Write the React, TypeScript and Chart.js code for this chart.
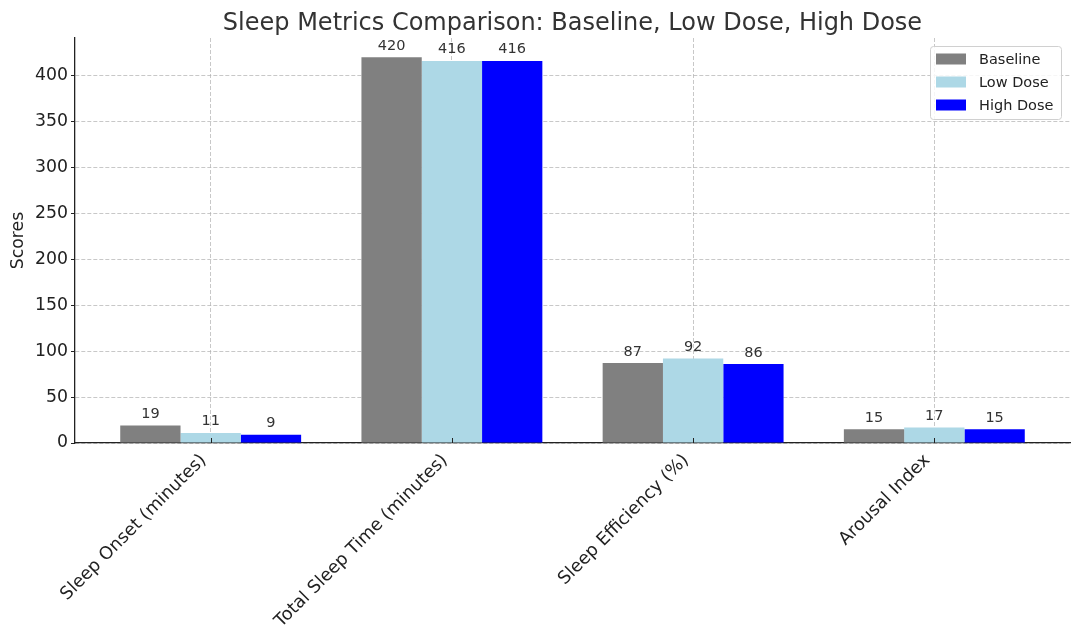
import { useEffect, useRef } from 'react';
import { Chart, registerables } from 'chart.js';

Chart.register(...registerables);

// data
const categories = ['Sleep Onset (minutes)', 'Total Sleep Time (minutes)', 'Sleep Efficiency (%)', 'Arousal Index'];
const seriesNames = ['Baseline', 'Low Dose', 'High Dose'];
const baseline = [19, 420, 87, 15];
const lowDose = [11, 416, 92, 17];
const highDose = [9, 416, 86, 15];
const yTicks = [0, 50, 100, 150, 200, 250, 300, 350, 400];

const seriesColors = ['#808080', '#add8e6', '#0000ff'];
const FONT = '"DejaVu Sans", Verdana, sans-serif';
const TITLE = 'Sleep Metrics Comparison: Baseline, Low Dose, High Dose';

Chart.defaults.font.family = FONT;
Chart.defaults.font.size = 17;
Chart.defaults.color = '#222';

const extras = {
  id: 'extras',
  afterDatasetsDraw(chart: any) {
    const { ctx, chartArea } = chart;
    ctx.save();

    // value labels above bars
    ctx.font = `14.5px ${FONT}`;
    ctx.fillStyle = '#333';
    ctx.textAlign = 'center';
    ctx.textBaseline = 'alphabetic';
    chart.data.datasets.forEach((ds: any, di: number) => {
      chart.getDatasetMeta(di).data.forEach((bar: any, i: number) => {
        ctx.fillText(String(ds.data[i].y), bar.x, bar.y - 7.5);
      });
    });

    // small inward tick marks on the x axis
    const xs = chart.scales.x;
    ctx.strokeStyle = '#222';
    ctx.lineWidth = 1;
    ctx.beginPath();
    xs.ticks.forEach((t: any) => {
      const px = Math.round(xs.getPixelForValue(t.value)) + 0.5;
      ctx.moveTo(px, chartArea.bottom);
      ctx.lineTo(px, chartArea.bottom - 5);
    });
    ctx.stroke();
    ctx.restore();
  },
  afterDraw(chart: any) {
    const { ctx, chartArea } = chart;
    ctx.save();

    // title, centred over the plot area
    ctx.font = `24px ${FONT}`;
    ctx.fillStyle = '#333';
    ctx.textAlign = 'center';
    ctx.textBaseline = 'alphabetic';
    ctx.fillText(TITLE, (chartArea.left + chartArea.right) / 2, 30);

    // legend box in the upper right corner
    const bx = 930.5, by = 46.5, bw = 131, bh = 73;
    ctx.fillStyle = 'rgba(255,255,255,0.85)';
    ctx.strokeStyle = '#d0d0d0';
    ctx.lineWidth = 1;
    ctx.beginPath();
    ctx.roundRect(bx, by, bw, bh, 3);
    ctx.fill();
    ctx.stroke();

    ctx.font = `14.5px ${FONT}`;
    ctx.textAlign = 'left';
    ctx.textBaseline = 'middle';
    chart.data.datasets.forEach((ds: any, i: number) => {
      const cy = 59 + i * 23;
      ctx.fillStyle = ds.backgroundColor;
      ctx.fillRect(936, cy - 5.5, 30, 11);
      ctx.fillStyle = '#222';
      ctx.fillText(ds.label, 979, cy + 1);
    });
    ctx.restore();
  },
};

export default function App() {
  const canvasRef = useRef<HTMLCanvasElement>(null);

  useEffect(() => {
    if (!canvasRef.current) return;
    const ctx = canvasRef.current.getContext('2d');
    if (!ctx) return;

    const series = [baseline, lowDose, highDose];

    const chart = new Chart(ctx, {
      type: 'bar',
      data: {
        datasets: series.map((values, si) => ({
          label: seriesNames[si],
          data: values.map((v, i) => ({ x: i, y: v })),
          backgroundColor: seriesColors[si],
          borderWidth: 0,
          categoryPercentage: 0.75,
          barPercentage: 1,
        })),
      },
      options: {
        animation: false,
        responsive: true,
        maintainAspectRatio: false,
        layout: { padding: { top: 38, right: 10, left: 0, bottom: 0 } },
        plugins: {
          legend: { display: false },
          title: { display: false },
          tooltip: { enabled: false },
        },
        scales: {
          x: {
            type: 'linear',
            offset: false,
            min: -0.5625,
            max: 3.5625,
            afterBuildTicks: (scale: any) => {
              scale.ticks = categories.map((_, i) => ({ value: i }));
            },
            afterFit: (scale: any) => {
              scale.height = 201;
            },
            grid: {
              offset: false,
              color: 'rgba(176,176,176,0.7)',
              lineWidth: 1,
              drawTicks: false,
            },
            border: { display: true, color: '#222', width: 1.3, dash: [4, 2] },
            ticks: {
              autoSkip: false,
              minRotation: 45,
              maxRotation: 45,
              padding: 7,
              labelOffset: -7,
              color: '#222',
              font: { family: FONT, size: 17.7 },
              callback: (value: any) => categories[value] ?? '',
            },
          },
          y: {
            min: 0,
            max: 441,
            afterBuildTicks: (scale: any) => {
              scale.ticks = yTicks.map((v) => ({ value: v }));
            },
            afterFit: (scale: any) => {
              scale.width = 75;
            },
            grid: {
              color: 'rgba(176,176,176,0.7)',
              lineWidth: 1,
              drawTicks: true,
              tickLength: 4,
              tickColor: '#222',
            },
            border: { display: true, color: '#222', width: 1.3, dash: [4, 2] },
            ticks: {
              padding: 3,
              color: '#222',
              font: { family: FONT, size: 17.3 },
            },
            title: {
              display: true,
              text: 'Scores',
              color: '#222',
              font: { family: FONT, size: 17.3, weight: 'normal' },
              padding: { top: 8, bottom: 0 },
            },
          },
        },
      },
      plugins: [extras],
    } as any);

    return () => chart.destroy();
  }, []);

  return (
    <div style={{ position: 'fixed', left: 0, top: 0, width: 1080, height: 644, background: '#fff' }}>
      <canvas ref={canvasRef} />
    </div>
  );
}
